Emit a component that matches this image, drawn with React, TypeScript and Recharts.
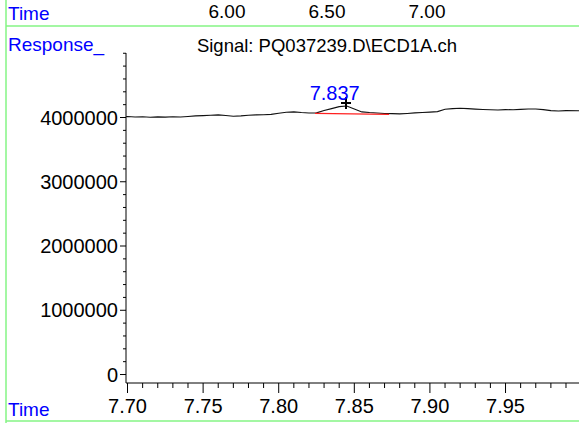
import { LineChart, Line, XAxis, YAxis, ReferenceDot } from "recharts";

// retention time (min) and detector response
const times = [
  7.699, 7.7, 7.705, 7.71, 7.715, 7.72, 7.725, 7.73, 7.735, 7.74, 7.745, 7.75,
  7.755, 7.76, 7.765, 7.77, 7.775, 7.78, 7.785, 7.79, 7.795, 7.8, 7.805, 7.81,
  7.815, 7.82, 7.825, 7.83, 7.835, 7.84, 7.845, 7.85, 7.855, 7.86, 7.865, 7.87,
  7.875, 7.88, 7.885, 7.89, 7.895, 7.9, 7.905, 7.91, 7.915, 7.92, 7.925, 7.93,
  7.935, 7.94, 7.945, 7.95, 7.955, 7.96, 7.965, 7.97, 7.975, 7.98, 7.985, 7.99,
  7.9986,
];
const response = [
  4012000, 4015000, 4008000, 4012000, 4005000, 4010000, 4006000, 4011000,
  4008000, 4016000, 4025000, 4030000, 4035000, 4041000, 4032000, 4020000,
  4025000, 4035000, 4041000, 4043000, 4049000, 4066000, 4082000, 4087000,
  4077000, 4070000, 4072000, 4108000, 4138000, 4169000, 4180000, 4133000,
  4087000, 4077000, 4070000, 4063000, 4061000, 4056000, 4063000, 4072000,
  4077000, 4084000, 4092000, 4128000, 4138000, 4143000, 4138000, 4131000,
  4125000, 4121000, 4118000, 4123000, 4121000, 4127000, 4133000, 4133000,
  4123000, 4107000, 4102000, 4107000, 4105000,
];

// integration baseline under the peak
const baselineTimes = [7.824, 7.873];
const baselineValues = [4065000, 4050000];

// peak annotation
const peakLabel = "7.837";
const peakLabelTime = 7.837;
const peakApexTime = 7.8445;
const peakApexValue = 4226000;

const xMajorTicks = [7.7, 7.75, 7.8, 7.85, 7.9, 7.95];
const xMinorTicks = Array.from({ length: 30 }, (_, i) => (770 + i) / 100);
const yMajorTicks = [0, 1000000, 2000000, 3000000, 4000000];
const yMinorTicks = Array.from({ length: 26 }, (_, i) => i * 200000);

// overview time scale shown in the header strip
const headerTimeTicks = [6.0, 6.5, 7.0];
const headerDomain = [5.495, 7.76];

const title = "Signal: PQ037239.D\\ECD1A.ch";

const data = times.map((t, i) => ({ t, v: response[i] }));
const baseline = baselineTimes.map((t, i) => ({ t, v: baselineValues[i] }));

const FONT = "'Liberation Sans', Arial, sans-serif";
const GREEN = "#84f584";
const BLUE = "#0000ff";
const PLOT_LEFT = 126;
const PLOT_WIDTH = 453;

const headerX = (t: number) =>
  PLOT_LEFT + ((t - headerDomain[0]) / (headerDomain[1] - headerDomain[0])) * PLOT_WIDTH;

const isMajor = (list: number[], v: number) =>
  list.some((m) => Math.abs(m - v) < 1e-6);

const BottomTick = (props: any) => {
  const { x, y, payload } = props;
  const major = isMajor(xMajorTicks, payload.value);
  return (
    <g>
      <line x1={x} y1={y} x2={x} y2={y + (major ? 10 : 5)} stroke="#000" />
      {major && (
        <text x={x} y={y + 30} textAnchor="middle" fontSize={20} fontFamily={FONT} fill="#000">
          {payload.value.toFixed(2)}
        </text>
      )}
    </g>
  );
};

const LeftTick = (props: any) => {
  const { x, y, payload } = props;
  const major = isMajor(yMajorTicks, payload.value);
  return (
    <g>
      <line x1={x} y1={y} x2={x - (major ? 6 : 3)} y2={y} stroke="#000" />
      {major && (
        <text x={x - 8} y={y + 7} textAnchor="end" fontSize={20} fontFamily={FONT} fill="#000">
          {payload.value}
        </text>
      )}
    </g>
  );
};

const PlusMark = (props: any) => {
  const { cx, cy } = props;
  return (
    <g stroke="#000" strokeWidth={2}>
      <line x1={cx - 5} y1={cy} x2={cx + 5} y2={cy} />
      <line x1={cx} y1={cy - 6} x2={cx} y2={cy + 6} />
    </g>
  );
};

const PeakLabel = (props: any) => {
  const { cx, cy } = props;
  return (
    <text x={cx} y={cy - 3} textAnchor="middle" fontSize={20} fontFamily={FONT} fill={BLUE}>
      {peakLabel}
    </text>
  );
};

export default function App() {
  return (
    <div style={{ position: "absolute", left: 0, top: 0, width: 579, height: 423, background: "#fff" }}>
      <LineChart
        width={579}
        height={423}
        data={data}
        margin={{ top: 53, right: 0, left: 0, bottom: 0 }}
      >
        <XAxis
          dataKey="t"
          type="number"
          domain={[7.699, 7.9986]}
          allowDataOverflow
          ticks={xMinorTicks}
          interval={0}
          height={40}
          axisLine={{ stroke: "#000" }}
          tickLine={false}
          tickSize={0}
          tickMargin={0}
          tick={<BottomTick />}
        />
        <YAxis
          type="number"
          domain={[-132000, 5004000]}
          allowDataOverflow
          ticks={yMinorTicks}
          interval={0}
          width={PLOT_LEFT}
          axisLine={{ stroke: "#000" }}
          tickLine={false}
          tickSize={0}
          tickMargin={0}
          tick={<LeftTick />}
        />
        <Line
          dataKey="v"
          type="linear"
          stroke="#111"
          strokeWidth={1.1}
          dot={false}
          isAnimationActive={false}
        />
        <Line
          data={baseline}
          dataKey="v"
          type="linear"
          stroke="#ff2020"
          strokeWidth={1.2}
          dot={false}
          isAnimationActive={false}
        />
        <ReferenceDot x={peakApexTime} y={peakApexValue} shape={<PlusMark />} />
        <ReferenceDot x={peakLabelTime} y={peakApexValue} shape={<PeakLabel />} />
      </LineChart>
      <svg
        width={579}
        height={423}
        style={{ position: "absolute", left: 0, top: 0, pointerEvents: "none" }}
      >
        <line x1={6} y1={0} x2={6} y2={423} stroke={GREEN} strokeWidth={1.5} />
        <line x1={6} y1={26} x2={579} y2={26} stroke={GREEN} strokeWidth={1.5} />
        <line x1={6} y1={421} x2={579} y2={421} stroke={GREEN} strokeWidth={1.5} />
        <text x={8} y={20} fontSize={19} fontFamily={FONT} fill={BLUE}>Time</text>
        {headerTimeTicks.map((t) => (
          <text key={t} x={headerX(t)} y={18} textAnchor="middle" fontSize={19} fontFamily={FONT} fill="#000">
            {t.toFixed(2)}
          </text>
        ))}
        <text x={8} y={51} fontSize={19} fontFamily={FONT} fill={BLUE}>Response_</text>
        <text x={327} y={52} textAnchor="middle" fontSize={18.5} fontFamily={FONT} fill="#000">
          {title}
        </text>
        <text x={8} y={416} fontSize={19} fontFamily={FONT} fill={BLUE}>Time</text>
      </svg>
    </div>
  );
}
